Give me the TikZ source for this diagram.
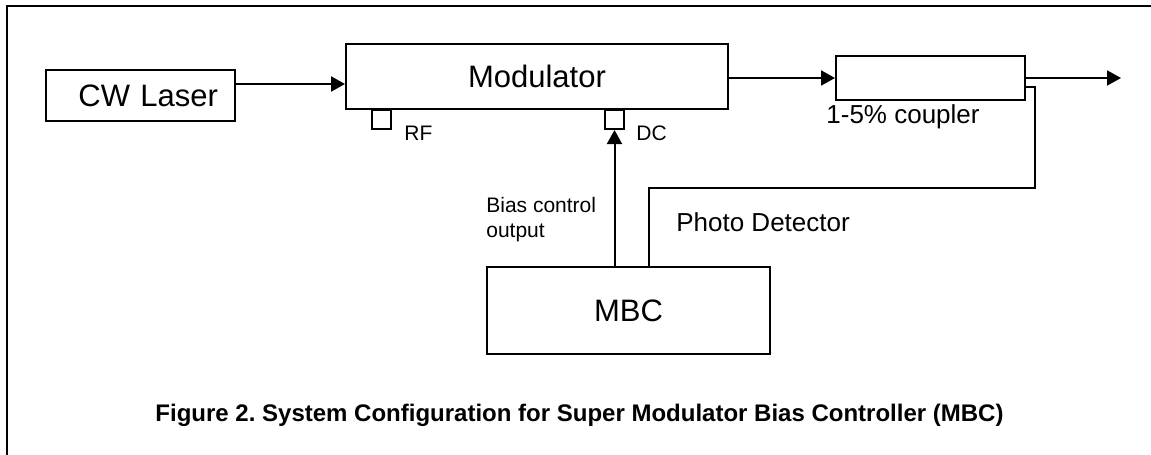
\documentclass[tikz,border=0pt]{standalone}
\usepackage{fontspec}
\setmainfont{Liberation Sans}
\usetikzlibrary{arrows.meta, positioning, calc}

\begin{document}
\frenchspacing
\begin{tikzpicture}[
  x=1pt, y=-1pt,
  line width=2pt,
  big/.style={font=\fontsize{31}{36}\selectfont},
  mid/.style={font=\fontsize{26}{30}\selectfont},
  sml/.style={font=\fontsize{21}{25}\selectfont},
  box/.style={draw, rectangle, inner sep=0pt, big},
  port/.style={draw, rectangle, inner sep=0pt, minimum size=19pt},
  a/.style={-{Triangle[length=14pt, width=15pt]}},
]
\useasboundingbox (0,0) rectangle (1151,455);
% open frame
\draw (1151,6) -- (7,6) -- (7,455);

% blocks
\node[box, minimum width=189pt, minimum height=51pt, text width=155pt,
      inner xsep=17pt, align=right] (laser) at (140.5,95.5) {CW Laser};
\node[box, minimum width=382pt, minimum height=65pt] (mod) at (537,76.5) {Modulator};
\node[box, minimum width=189pt, minimum height=44pt] (coupler) at (930.5,78) {};
\node[box, minimum width=283pt, minimum height=87pt] (mbc) at (628.5,310.5) {MBC};

% ports under the modulator
\node[port, anchor=north] (rf) at (381.5,109) {};
\node[port, anchor=north] (dc) at (614.5,109) {};
\node[sml, anchor=west] (rflbl) at (400,133) {RF};
\node[sml, anchor=west] (dclbl) at (632,133) {DC};

\coordinate (out) at (1121,78);
\coordinate (fb) at (1035,188);

% connectors
\draw[a] ([yshift=11.5pt]laser.east) -- ([yshift=11.5pt]laser.east -| mod.west);
\draw[a] (mod.east |- coupler.west) -- (coupler.west);
\draw[a] (coupler.east) -- (out);
\draw ([yshift=-9pt]coupler.east) -| (fb) -| ([xshift=20.5pt]mbc.north);
\draw[a] (mbc.north -| dc.south) -- (dc.south);

% labels
\node[mid] (cplbl) at (903,117) {1-5\% coupler};
\node[sml, anchor=west, align=left] (biaslbl) at (482,220) {Bias control\\output};
\node[mid, anchor=west] (pdlbl) at (672,222) {Photo Detector};
\node[font=\fontsize{24}{28}\selectfont\bfseries] (caption) at (579.5,415)
  {Figure 2. System Configuration for Super Modulator Bias Controller (MBC)};
\end{tikzpicture}
\end{document}
